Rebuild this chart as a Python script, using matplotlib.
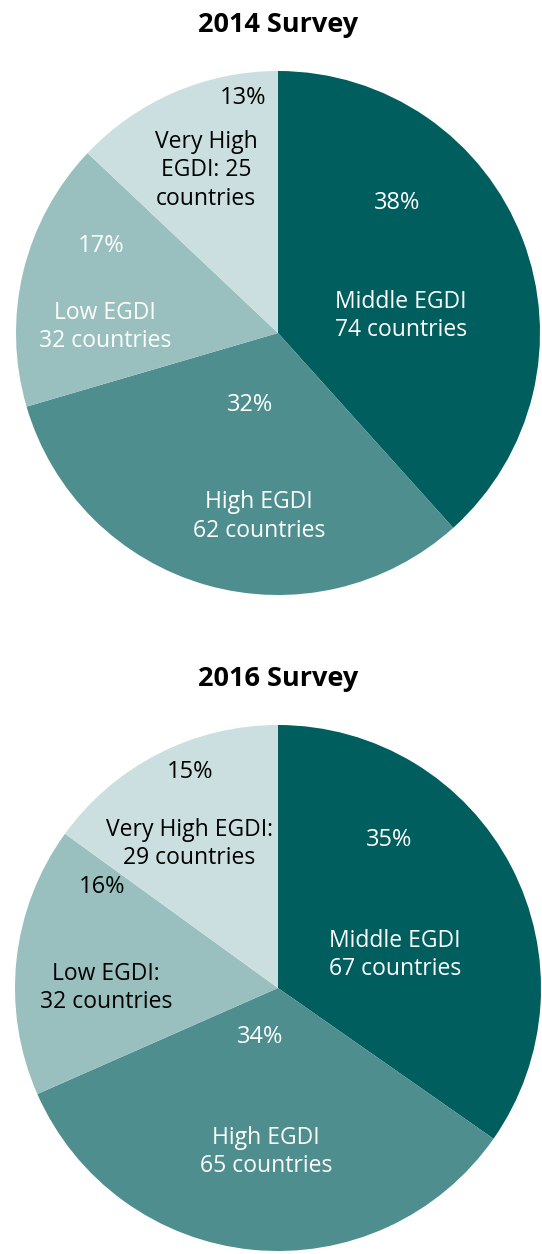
import matplotlib.pyplot as plt

plt.rcParams['font.family'] = ['Open Sans', 'DejaVu Sans']

groups = ['Middle EGDI', 'High EGDI', 'Low EGDI', 'Very High EGDI']
colors = ['#005e5e', '#4e8e8e', '#99bfbf', '#cbdfe0']

counts_2014 = [74, 62, 32, 25]
pcts_2014 = [38, 32, 17, 13]
names_2014 = ['Middle EGDI\n74 countries', 'High EGDI\n62 countries',
              'Low EGDI\n32 countries', 'Very High\nEGDI: 25\ncountries']

counts_2016 = [67, 65, 32, 29]
pcts_2016 = [35, 34, 16, 15]
names_2016 = ['Middle EGDI\n67 countries', 'High EGDI\n65 countries',
              'Low EGDI:\n32 countries', 'Very High EGDI:\n29 countries']

W, H = 542, 1254
fig = plt.figure(figsize=(W / 100, H / 100), dpi=100)


def draw_pie(cx, cy, r, counts, pcts, names, pct_xy, name_xy, txt_colors, title):
    ax = fig.add_axes([(cx - r) / W, (H - cy - r) / H, 2 * r / W, 2 * r / H])
    ax.pie(counts, colors=colors, startangle=90, counterclock=False,
           radius=1, wedgeprops=dict(linewidth=0))
    ax.set_xlim(-1, 1)
    ax.set_ylim(-1, 1)
    ax.axis('off')
    for p, n, (px, py), (nx, ny), c in zip(pcts, names, pct_xy, name_xy, txt_colors):
        ax.text(px, py, f'{p}%', ha='center', va='center', fontsize=17, color=c)
        ax.text(nx, ny, n, ha='center', va='center', fontsize=16.5, color=c,
                linespacing=1.25)
    fig.text(cx / W, 1 - (cy - r - 46) / H, title, ha='center', va='center',
             fontsize=19.5, fontweight='bold')


draw_pie(278, 333, 262, counts_2014, pcts_2014, names_2014,
         [(0.454, 0.496), (-0.107, -0.275), (-0.676, 0.332), (-0.134, 0.897)],
         [(0.47, 0.065), (-0.073, -0.70), (-0.66, 0.023), (-0.275, 0.622)],
         ['white', 'white', 'white', 'black'], '2014 Survey')

draw_pie(278, 988, 263, counts_2016, pcts_2016, names_2016,
         [(0.422, 0.563), (-0.068, -0.186), (-0.669, 0.384), (-0.335, 0.821)],
         [(0.445, 0.125), (-0.046, -0.624), (-0.654, 0.0), (-0.338, 0.548)],
         ['white', 'white', 'black', 'black'], '2016 Survey')

fig.savefig('out.png', dpi=100)
